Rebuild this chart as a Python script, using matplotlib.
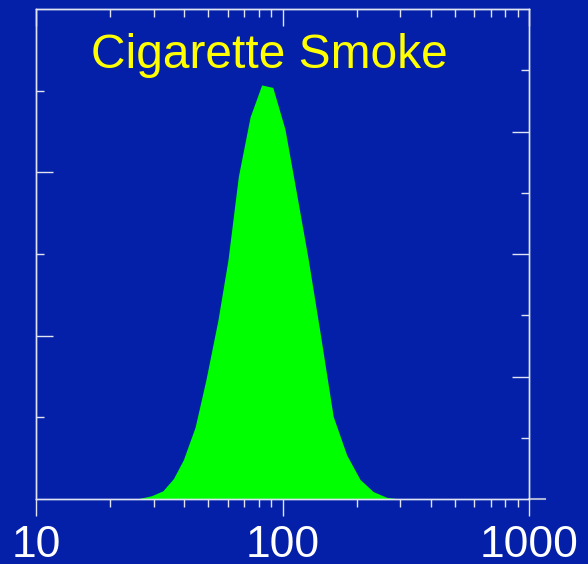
import matplotlib
matplotlib.use("Agg")
import matplotlib.pyplot as plt
from matplotlib.ticker import LogLocator, NullFormatter, FixedLocator

# particle diameter (log axis) and relative amount
diameter = [25.6, 29.4, 32.7, 36.1, 39.6, 44.2, 48.9, 54.7, 60.1, 66.2, 73.9,
            82.3, 91.3, 102.3, 113.4, 126.9, 141.8, 160.6, 182.1, 206.2,
            233.4, 264.8, 299.9]
amount = [0.0, 0.04, 0.10, 0.25, 0.48, 0.88, 1.46, 2.19, 2.93, 3.95, 4.68,
          5.07, 5.04, 4.53, 3.78, 2.95, 2.05, 1.01, 0.54, 0.24, 0.09, 0.02, 0.0]

x_labels = ["10", "100", "1000"]
title = "Cigarette Smoke"

bg = "#0420A8"
line_col = "#dfe3f2"

plt.rcParams['font.family'] = ['Liberation Sans', 'DejaVu Sans']

fig = plt.figure(figsize=(5.88, 5.64), dpi=100, facecolor=bg)
ax = fig.add_axes([36 / 588, 65 / 564, 493 / 588, 490 / 564])
ax.set_facecolor(bg)

ax.fill_between(diameter, amount, 0, color="#00FF00", linewidth=0, zorder=2)

ax.set_xscale("log")
ax.set_xlim(10, 1000)
ax.set_ylim(0, 6)
ax.xaxis.set_major_locator(FixedLocator([10, 100, 1000]))
ax.set_xticklabels(x_labels)
ax.xaxis.set_minor_locator(LogLocator(base=10, subs=range(2, 10)))
ax.xaxis.set_minor_formatter(NullFormatter())
ax.tick_params(axis="x", which="major", direction="out", length=12, width=1,
               colors=line_col, labelsize=32, labelcolor="white", pad=7)
ax.tick_params(axis="x", which="minor", direction="out", length=6, width=1,
               colors=line_col)

# top side: inward ticks, no labels
top = ax.secondary_xaxis("top")
top.xaxis.set_major_locator(FixedLocator([10, 100, 1000]))
top.xaxis.set_minor_locator(LogLocator(base=10, subs=range(2, 10)))
top.xaxis.set_major_formatter(NullFormatter())
top.xaxis.set_minor_formatter(NullFormatter())
top.tick_params(which="major", direction="in", length=12, width=1, colors=line_col)
top.tick_params(which="minor", direction="in", length=6, width=1, colors=line_col)
top.spines["top"].set_color(line_col)

# left axis 0..6, right axis 0..8, both inward ticks without labels
ax.yaxis.set_major_locator(FixedLocator([2, 4]))
ax.yaxis.set_minor_locator(FixedLocator([1, 3, 5]))
ax.yaxis.set_major_formatter(NullFormatter())
ax.tick_params(axis="y", which="major", direction="in", length=12, width=1, colors=line_col)
ax.tick_params(axis="y", which="minor", direction="in", length=6, width=1, colors=line_col)

rax = ax.twinx()
rax.set_ylim(0, 8)
rax.yaxis.set_major_locator(FixedLocator([2, 4, 6]))
rax.yaxis.set_minor_locator(FixedLocator([1, 3, 5, 7]))
rax.yaxis.set_major_formatter(NullFormatter())
rax.tick_params(axis="y", which="major", direction="in", length=12, width=1, colors=line_col)
rax.tick_params(axis="y", which="minor", direction="in", length=6, width=1, colors=line_col)

for a in (ax, rax):
    for s in a.spines.values():
        s.set_color(line_col)
        s.set_linewidth(1)

# baseline runs a little past the right spine
ax.plot([1, 1.033], [0, 0], transform=ax.transAxes, color="#aab2d6",
        linewidth=1.5, clip_on=False, zorder=3)

ax.text(0.474, 0.905, title, transform=ax.transAxes, ha="center", va="center",
        color="#FFFF00", fontsize=34.5)

fig.savefig("out.png", dpi=100, facecolor=bg)
